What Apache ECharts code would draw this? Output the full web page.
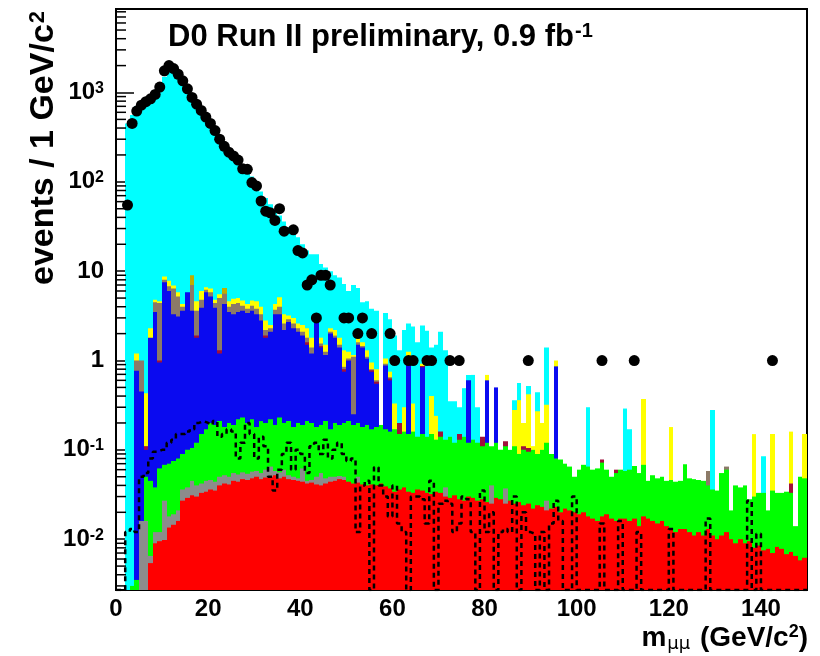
<!DOCTYPE html>
<html><head><meta charset="utf-8">
<script src="https://cdn.jsdelivr.net/npm/echarts@6/dist/echarts.min.js"></script>
<style>html,body{margin:0;padding:0;background:#fff}#c{width:820px;height:656px}</style>
</head><body><div id="c"></div>
<script>
// 1 GeV bins, 0..150 GeV (index = lower bin edge)
const dataCounts = [
0,0,55,450,620,720,790,850,950,1150,
1750,2000,1850,1600,1350,1100,880,740,630,530,
450,375,300,250,215,195,175,140,138,98,
90,61,47,45,37,50,28,0,29,17,
16,7,8,3,9,9,7,0,0,3,
3,0,2,3,0,2,0,0,0,2,
1,0,0,1,1,0,0,1,1,0,
0,0,1,0,1,0,0,0,0,0,
0,0,0,0,0,0,0,0,0,1,
0,0,0,0,0,0,0,0,0,0,
0,0,0,0,0,1,0,0,0,0,
0,0,1,0,0,0,0,0,0,0,
0,0,0,0,0,0,0,0,0,0,
0,0,0,0,0,0,0,0,0,0,
0,0,1,0,0,0,0,0,0,0];

const cyanTop = [
0,0,450,560,700,760,800,860,940,1100,
1500,1800,1750,1500,1300,1050,870,730,620,520,
440,370,310,265,225,200,175,150,130,115,
90,78,66,56,48,42,36,31,27,24,
20,17,15.5,15.5,12,11,10,9,8.5,7.2,
6,7,6.5,4.5,4.6,3.8,3.6,0,3.4,2.9,
1.9,1.3,2.2,2.6,2.4,1.6,2.46,2.16,1.4,1.5,
2.1,1.3,0.35,0.35,0.3,0.49,0.69,0.69,0.3,0,
0,0,0,0,0,0,0.36,0.56,0,0.52,
0,0.44,0,1.4,0,0,0,0,0,0,
0,0,0.3,0,0,0,0,0,0,0,
0.29,0.17,0,0,0,0,0,0,0,0,
0,0,0,0,0,0,0,0,0,0.28,
0,0,0,0,0,0,0,0,0,0,
0.085,0,0,0,0,0,0,0,0,0];

const yellowTop = [
0,0,0,0,1.2,0,0.43,2.3,4.8,4.6,
8.7,7.8,6.9,5.8,4.3,4.6,0,4.6,6.0,6.6,
6.4,4.8,5.5,0,4.6,4.9,5.0,4.7,4.3,4.7,
4.6,4.0,2.8,2.5,4.3,5.1,3.3,3.2,3.0,2.6,
2.5,2.3,1.8,0,1.8,1.5,2.3,2.2,1.8,1.3,
1.25,1.15,1.9,1.6,1.3,0.95,0.8,0,1.05,0.75,
0.33,0,0.3,1.25,0.33,0,0.92,0,0.4,0.24,
0,0,0,0,0,0,0,0,0,0,
0.69,0,0,0,0,0,0.28,0.36,0.2,0.42,
0.11,0.27,0.2,0.32,0,1.0,0,0,0,0,
0,0,0,0,0,0,0,0,0,0,
0,0,0,0,0.37,0,0,0,0,0,
0.18,0,0,0,0,0,0,0,0,0,
0,0,0,0,0,0,0,0,0.15,0,
0,0,0.15,0,0,0,0.16,0,0,0.15];

const oliveTop = [
0,0,0,0,0,0,0,0,0,0,
0,0,0,0,0,0,9.0,0,0,0,
0,0,0,6.5,0,0,0,0,0,0];

const brownTop = [
0,0,0,0,1.0,1.0,0,0,4.5,4.4,
8.0,6.8,6.4,5.2,4.0,4.2,7.0,3.6,4.8,6.2,
5.8,4.4,5.0,5.6,4.0,4.3,4.4,4.1,3.8,4.1,
3.8,3.3,2.2,2.3,3.7,4.0,2.6,2.9,2.6,2.3,
2.1,1.8,1.4,3.2,1.55,1.25,2.1,1.9,1.5,0.85,
1.05,1.1,1.6,1.45,1.1,0.8,0.6,0,0.92,0.65,
0,0,0,0,0,0,0,0,0,0,
0,0,0,0,0,0,0,0,0,0,
0,0,0,0,0,0,0,0,0,0,
0,0,0,0,0,0,0,0,0,0,
0,0,0,0,0,0,0,0,0,0,
0,0,0,0,0,0,0,0,0,0,
0,0,0,0,0,0,0,0,0.058,0,
0,0,0.065,0,0,0,0,0,0,0];

const maroonTop = [
0,0,0,0,0,0,0.11,0,0,1.0,
0,0,0,0,0,0,0,1.9,0,0,
0,0,1.3,0,0,0,0,0,0,0,
0,0,1.9,0,0,0,0,0,0,0,
0,1.6,0,0,1.45,0,0,0,0,0.8,
0,0,0,0,0,0.78,0.58,0,0,0.63,
0,0.2,0,0.97,0,0,0.87,0,0,0,
0.16,0,0,0,0.15,0,0,0,0,0.14,
0,0,0,0,0.125,0,0,0,0.11,0.105,
0,0,0,0,0,0,0,0,0,0,
0,0,0,0,0,0.078,0,0,0.06,0,
0,0,0,0,0,0,0,0,0,0,
0,0,0,0,0,0,0,0,0,0,
0,0,0,0,0,0,0,0,0,0,
0,0,0,0,0,0,0.042,0,0,0];

const blueTop = [
0,0,0,0,0.77,0.45,0.1,1.8,3.5,0.95,
7.5,6.0,3.3,3.1,3.6,5.8,3.6,1.8,3.9,5.8,
5.2,3.9,1.2,4.3,3.5,3.3,3.5,3.6,3.4,3.6,
3.3,2.8,1.8,2.1,3.3,3.3,2.2,2.7,2.3,2.1,
1.9,1.5,1.2,3.0,1.4,1.15,2.0,1.8,1.4,0.75,
1.0,0.25,1.5,1.4,1.05,0.75,0.55,0,0.88,0.6,
0,0,0,0.95,0,0,0.84,0,0,0,
0,0,0,0,0,0,0.6,0,0,0,
0.6,0,0.5,0,0,0,0,0,0,0,
0,0,0,0,0,0.86,0,0,0,0];

const greenTop = [
0,0,0,0.003,0.0035,0,0.05,0.045,0.038,0.062,
0.068,0.07,0.075,0.08,0.09,0.1,0.105,0.12,0.15,0.17,
0.2,0.19,0.21,0.18,0.2,0.19,0.22,0.23,0.2,0.22,
0.18,0.21,0.2,0.22,0.19,0.23,0.2,0.21,0.18,0.2,
0.19,0.21,0.2,0.18,0.19,0.21,0.17,0.2,0.19,0.2,
0.21,0.19,0.2,0.18,0.19,0.17,0.18,0.19,0.17,0.16,
0.17,0.15,0.16,0.15,0.16,0.14,0.15,0.14,0.15,0.13,
0.14,0.13,0.14,0.12,0.13,0.14,0.12,0.13,0.12,0.11,
0.12,0.11,0.12,0.1,0.11,0.1,0.11,0.09,0.1,0.095,
0.1,0.09,0.1,0.12,0.09,0.08,0.078,0.07,0.065,0.05,
0.06,0.068,0.065,0.06,0.062,0.072,0.06,0.05,0.055,0.06,
0.058,0.06,0.066,0.055,0.068,0.045,0.052,0.048,0.05,0.045,
0.046,0.044,0.045,0.069,0.048,0.047,0.046,0.045,0.04,0.036,
0.035,0.055,0.06,0.021,0.04,0.038,0.04,0.028,0.03,0.033,
0.033,0.021,0.035,0.033,0.033,0.034,0.033,0.014,0.05,0.048];

const grayTop = [
0,0,0,0,0,0.016,0.016,0.0065,0.012,0.012,
0.027,0.018,0.019,0.021,0.036,0.038,0.045,0.04,0.042,0.045,
0.046,0.044,0.05,0.052,0.05,0.055,0.053,0.056,0.054,0.057,
0.058,0.055,0.06,0.065,0.058,0.056,0.06,0.052,0.05,0.048,
0.062,0.045,0.046,0.05,0.055,0.048,0.05,0.05,0.051,0.05,
0,0,0.05,0,0,0,0,0,0,0,
0,0,0,0,0,0,0,0,0,0,
0,0.038,0,0,0,0,0,0,0,0,
0,0.04,0,0,0.037,0,0,0,0,0,
0,0,0,0.027,0,0,0,0,0,0];

const redTop = [
0,0,0,0,0,0,0,0.0054,0.009,0.0095,
0.0098,0.0135,0.0145,0.016,0.027,0.029,0.031,0.03,0.033,0.034,
0.036,0.035,0.04,0.042,0.041,0.045,0.044,0.047,0.046,0.048,
0.05,0.047,0.049,0.05,0.052,0.048,0.05,0.047,0.046,0.045,
0.044,0.042,0.043,0.041,0.04,0.042,0.044,0.045,0.047,0.046,
0.044,0.042,0.043,0.041,0.04,0.041,0.04,0.042,0.039,0.037,
0.034,0.036,0.038,0.034,0.033,0.036,0.035,0.033,0.032,0.034,
0.033,0.03,0.029,0.031,0.028,0.027,0.03,0.029,0.027,0.028,
0.026,0.025,0.029,0.028,0.025,0.027,0.025,0.026,0.024,0.025,
0.022,0.024,0.023,0.021,0.022,0.023,0.02,0.022,0.021,0.02,
0.019,0.02,0.018,0.017,0.016,0.018,0.019,0.017,0.016,0.017,
0.017,0.016,0.017,0.014,0.018,0.017,0.016,0.015,0.016,0.014,
0.013,0.012,0.013,0.013,0.012,0.011,0.012,0.011,0.013,0.011,
0.01,0.011,0.012,0.01,0.009,0.01,0.009,0.0095,0.008,0.0085,
0.0075,0.0078,0.007,0.0082,0.0078,0.0068,0.0072,0.0065,0.0058,0.0062];

const signal = [
0,0,0.012,0.013,0.012,0.05,0.055,0.08,0.095,0.1,
0.1,0.12,0.13,0.15,0.15,0.16,0.17,0.2,0.21,0.2,
0.19,0.21,0.14,0.15,0.17,0.16,0.08,0.12,0.2,0.15,
0.08,0.14,0.11,0.05,0.035,0.06,0.09,0.12,0.06,0.1,
0.09,0.055,0.11,0.12,0.09,0.13,0.08,0.1,0.12,0.09,
0.075,0.08,0.012,0.04,0.045,0,0.064,0.04,0.03,0.018,
0.04,0.015,0.012,0,0.03,0.03,0.028,0.015,0.045,0,
0.025,0.027,0.025,0.012,0.015,0.03,0.028,0.012,0,0.035,
0.012,0.02,0,0.012,0.013,0.012,0.03,0,0.02,0.012,
0.0115,0,0.012,0,0.015,0.027,0.016,0,0,0.03,
0,0,0,0,0,0.015,0,0,0,0.016,
0,0,0,0.012,0,0,0,0,0,0,
0.013,0,0,0,0,0,0,0,0.017,0,
0,0,0,0,0,0,0,0.027,0,0.0115,
0,0,0,0,0,0,0,0,0,0];

const xTicks = {min: 0, max: 150, step: 20};
const YMIN = 0.0027, YMAX = 8600;
const FONT = "'Liberation Sans', Arial, Helvetica, sans-serif";

function barSeries(name, color, tops) {
  return {
    name: name, type: 'custom', coordinateSystem: 'cartesian2d', clip: true, silent: true,
    data: tops.map((v, i) => [i, v]).filter(d => d[1] > 0),
    encode: {x: 0, y: 1},
    renderItem: function (params, api) {
      const x0 = api.value(0), v = api.value(1);
      const pTop = api.coord([x0, v]);
      const pBot = api.coord([x0 + 1, YMIN]);
      const xl = Math.round(pTop[0]), xr = Math.round(pBot[0]);
      return {type: 'rect', shape: {x: xl, y: pTop[1], width: xr - xl, height: pBot[1] - pTop[1]},
              style: {fill: color}};
    }
  };
}

const yMinor = [];
for (let e = -3; e <= 3; e++) for (let m = 2; m <= 9; m++) {
  const v = m * Math.pow(10, e);
  if (v > YMIN && v < YMAX) yMinor.push(v);
}

const sigLine = signal.map((v, i) => [i, v > 0 ? v : YMIN]);
sigLine.push([150, signal[149] > 0 ? signal[149] : YMIN]);
const dots = dataCounts.map((v, i) => [i + 0.5, v]).filter(d => d[1] > 0);

const chart = echarts.init(document.getElementById('c'), null, {renderer: 'canvas'});
chart.setOption({
  animation: false,
  backgroundColor: '#fff',
  grid: {left: 116, right: 13, top: 9, bottom: 66, show: true, borderColor: '#000', borderWidth: 2,
         containLabel: false, outerBoundsMode: 'none'},
  xAxis: {
    type: 'value', min: xTicks.min, max: xTicks.max, interval: xTicks.step,
    axisLine: {show: true, lineStyle: {color: '#000', width: 2}},
    axisTick: {show: true, inside: true, length: 17, lineStyle: {color: '#000', width: 1.5}},
    minorTick: {show: true, splitNumber: 4, length: 9, lineStyle: {color: '#000', width: 1.5}},
    splitLine: {show: false},
    axisLabel: {color: '#000', fontSize: 24, fontWeight: 'bold', fontFamily: FONT, margin: 7,
      formatter: v => (v % 20 === 0 ? String(v) : '')}
  },
  yAxis: {
    type: 'log', logBase: 10, min: YMIN, max: YMAX,
    axisLine: {show: true, lineStyle: {color: '#000', width: 2}},
    axisTick: {show: true, inside: true, length: 18, lineStyle: {color: '#000', width: 1.5}},
    splitLine: {show: false},
    axisLabel: {
      color: '#000', fontSize: 24, fontWeight: 'bold', fontFamily: FONT, margin: 12,
      formatter: function (v) {
        const e = Math.log10(v), r = Math.round(e);
        if (Math.abs(e - r) > 1e-6) return '';
        if (r === 0) return '1';
        if (r === 1) return '10';
        return '10{s|' + r + '}';
      },
      rich: {s: {fontSize: 16, fontWeight: 'bold', fontFamily: FONT, color: '#000', verticalAlign: 'top', lineHeight: 16, padding: [0, 0, 8, 0]}}
    }
  },
  graphic: [
    {type: 'text', x: 168, y: 37, z: 100,
     style: {text: 'D0 Run II preliminary, 0.9 fb{s|-1}', fill: '#000', fontSize: 31, fontWeight: 'bold', fontFamily: FONT,
             verticalAlign: 'middle', align: 'left',
             rich: {s: {fontSize: 20, fontWeight: 'bold', fontFamily: FONT, fill: '#000', verticalAlign: 'top', lineHeight: 20, padding: [0, 0, 12, 1]}}}},
    {type: 'text', x: 44, y: 148, rotation: Math.PI / 2, z: 100,
     style: {text: 'events / 1 GeV/c{s|2}', fill: '#000', fontSize: 34, fontWeight: 'bold', fontFamily: FONT,
             align: 'center', verticalAlign: 'middle',
             rich: {s: {fontSize: 22, fontWeight: 'bold', fontFamily: FONT, fill: '#000', verticalAlign: 'top', lineHeight: 22, padding: [0, 0, 12, 1]}}}},
    {type: 'text', x: 808, y: 638, z: 100,
     style: {text: '{m|m}{sub|μμ}{m| (GeV/c}{s|2}{m|)}', fill: '#000', fontSize: 28, fontWeight: 'bold', fontFamily: FONT,
             align: 'right', verticalAlign: 'middle',
             rich: {
               m: {fontSize: 28, fontWeight: 'bold', fontFamily: FONT, fill: '#000', lineHeight: 30, verticalAlign: 'middle'},
               sub: {fontSize: 18, fontWeight: 'normal', fontFamily: "'DejaVu Sans', sans-serif", fill: '#000', lineHeight: 18, verticalAlign: 'bottom', padding: [0, 2, 0, 1]},
               s: {fontSize: 18, fontWeight: 'bold', fontFamily: FONT, fill: '#000', lineHeight: 18, verticalAlign: 'top', padding: [0, 0, 0, 0]}
             }}}
  ],
  series: [
    barSeries('cyan', '#00ffff', cyanTop),
    barSeries('yellow', '#ffff00', yellowTop),
    barSeries('olive', '#bfae00', oliveTop),
    barSeries('brown', '#8c7a68', brownTop),
    barSeries('maroon', '#a0103c', maroonTop),
    barSeries('blue', '#0a0af0', blueTop),
    barSeries('green', '#00ff00', greenTop),
    barSeries('gray', '#8c8c8c', grayTop),
    barSeries('red', '#ff0000', redTop),
    {type: 'line', data: sigLine, step: 'end', symbol: 'none', showSymbol: false, clip: true, silent: true,
     lineStyle: {color: '#000', width: 2.5, type: [5, 4]}, z: 5},
    {type: 'custom', coordinateSystem: 'cartesian2d', silent: true, z: 6,
     data: yMinor.map(v => [0, v]), encode: {x: 0, y: 1},
     renderItem: function (params, api) {
       const p = api.coord([0, api.value(1)]);
       return {type: 'line', shape: {x1: p[0], y1: p[1], x2: p[0] + 10, y2: p[1]}, style: {stroke: '#000', lineWidth: 1.5}};
     }},
    {type: 'scatter', data: dots, symbol: 'circle', symbolSize: 11, itemStyle: {color: '#000', opacity: 1}, silent: true, z: 7}
  ]
});
</script>
</body></html>
